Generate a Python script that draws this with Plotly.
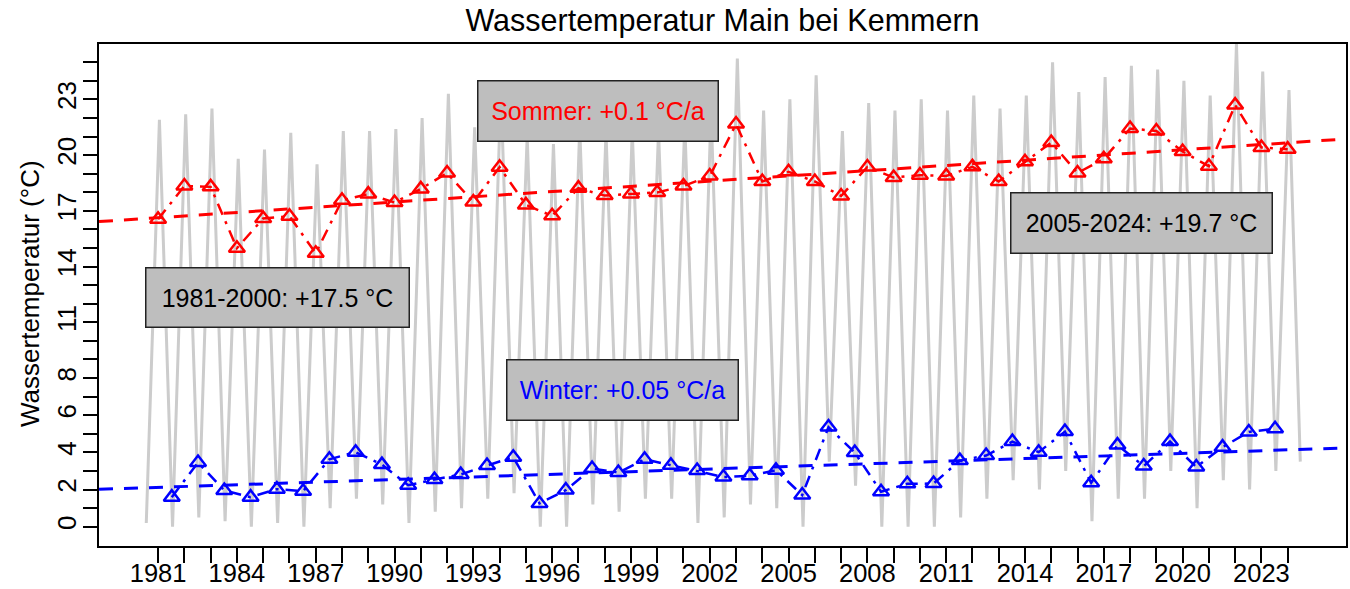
import plotly.graph_objects as go

# ---------------- data ----------------
years = list(range(1981, 2025))

summer_mean = [16.55, 18.34, 18.29, 14.99, 16.59, 16.71, 14.72, 17.57, 17.90, 17.45,
               18.18, 19.04, 17.47, 19.35, 17.32, 16.73, 18.22, 17.82, 17.91, 17.99,
               18.34, 18.87, 21.67, 18.58, 19.10, 18.58, 17.80, 19.36, 18.79, 18.92,
               18.88, 19.37, 18.58, 19.64, 20.68, 19.04, 19.80, 21.43, 21.30, 20.19,
               19.40, 22.69, 20.41, 20.32]

winter_years = [y + 0.52 for y in range(1981, 2024)]
winter_mean = [1.59, 3.45, 1.95, 1.59, 2.02, 1.91, 3.63, 4.01, 3.34, 2.23,
               2.54, 2.81, 3.29, 3.74, 1.25, 1.97, 3.13, 2.91, 3.63, 3.31,
               3.02, 2.67, 2.74, 3.04, 1.70, 5.36, 3.99, 1.88, 2.31, 2.32,
               3.56, 3.83, 4.58, 4.01, 5.12, 2.36, 4.39, 3.26, 4.58, 3.21,
               4.28, 5.10, 5.27]

# linear trends (end points at the plot edges)
trend_years = [1978.75, 2026.22]
summer_trend = [16.42, 20.87]
winter_trend = [2.01, 4.24]

# daily water temperature (grey): yearly summer peaks and winter troughs
gray_peak = [21.9, 22.2, 22.5, 19.8, 20.3, 21.2, 19.5, 21.3, 21.3, 21.4,
             22.0, 23.3, 21.5, 23.5, 21.0, 20.6, 21.5, 21.2, 21.3, 21.3,
             21.7, 22.4, 25.2, 22.4, 23.0, 24.3, 21.3, 22.8, 22.4, 23.0,
             22.4, 23.2, 22.5, 23.2, 25.0, 23.4, 24.2, 24.8, 24.6, 24.0,
             23.2, 26.0, 24.5, 23.5]
gray_trough = [0.2, 0.0, 0.5, 0.3, 0.0, 0.2, 0.0, 1.0, 1.5, 1.2,
               0.2, 0.8, 1.0, 1.5, 1.8, 0.0, 0.0, 1.2, 0.8, 1.5,
               1.5, 0.2, 0.5, 1.2, 1.0, 0.0, 3.5, 2.2, 0.0, 0.0,
               0.0, 0.5, 1.5, 2.5, 2.0, 3.0, 0.3, 1.5, 1.5, 3.0,
               1.0, 2.5, 2.0, 3.0, 3.5]

x_tick_years = years
x_tick_labels = [str(y) if (y - 1981) % 3 == 0 else "" for y in years]
y_tick_vals = list(range(0, 26))
y_label_set = [0, 2, 4, 6, 8, 11, 14, 17, 20, 23]
y_tick_labels = [str(v) if v in y_label_set else "" for v in y_tick_vals]

title_text = "Wassertemperatur Main bei Kemmern"
y_title = "Wassertemperatur (°C)"
box_texts = ["Sommer: +0.1 °C/a", "1981-2000: +17.5 °C", "2005-2024: +19.7 °C", "Winter: +0.05 °C/a"]

# ---------------- build grey series ----------------
gx, gy = [], []
for i, y in enumerate(years):
    gx.append(y - 0.45)
    gy.append(gray_trough[i])
    gx.append(y + 0.05)
    gy.append(gray_peak[i])
gx.append(years[-1] + 0.48)
gy.append(gray_trough[-1])

FONT = "Liberation Sans, Arial, sans-serif"

fig = go.Figure()
fig.add_trace(go.Scatter(x=gx, y=gy, mode="lines",
                         line=dict(color="#CCCCCC", width=3), hoverinfo="skip"))
fig.add_trace(go.Scatter(x=trend_years, y=summer_trend, mode="lines",
                         line=dict(color="#FF0000", width=3, dash="14px,11px")))
fig.add_trace(go.Scatter(x=trend_years, y=winter_trend, mode="lines",
                         line=dict(color="#0000FF", width=3, dash="14px,11px")))
fig.add_trace(go.Scatter(x=years, y=summer_mean, mode="lines+markers",
                         line=dict(color="#FF0000", width=2.5, dash="12px,7px,3px,7px"),
                         marker=dict(symbol="triangle-up-open", size=14, color="#FF0000",
                                     line=dict(width=2.5, color="#FF0000"))))
fig.add_trace(go.Scatter(x=winter_years, y=winter_mean, mode="lines+markers",
                         line=dict(color="#0000FF", width=2.5, dash="12px,7px,3px,7px"),
                         marker=dict(symbol="triangle-up-open", size=14, color="#0000FF",
                                     line=dict(width=2.5, color="#0000FF"))))

# plot area in pixels: x 99..1346, y 44..546
L, R, T, B = 99.0, 1346.0, 44.0, 546.0
def px(xp):
    return (xp - L) / (R - L)
def py(yp):
    return (B - yp) / (B - T)

boxes = [
    # text, color, x0, x1, y0, y1 (pixels)
    (box_texts[0], "#FF0000", 477, 719, 80, 142),
    (box_texts[1], "#000000", 145, 410, 267, 328),
    (box_texts[2], "#000000", 1010, 1273, 192, 254),
    (box_texts[3], "#0000FF", 506, 739, 359, 421),
]
annotations = []
for txt, col, x0, x1, y0, y1 in boxes:
    annotations.append(dict(
        text=txt, xref="paper", yref="paper",
        x=px((x0 + x1) / 2), y=py((y0 + y1) / 2),
        xanchor="center", yanchor="middle", showarrow=False,
        font=dict(family=FONT, size=25, color=col),
        bgcolor="#BEBEBE", bordercolor="#222222", borderwidth=1.5, borderpad=0,
        width=(x1 - x0) - 3, height=(y1 - y0) - 3, align="center"))

annotations.append(dict(
    text=y_title, xref="paper", yref="paper", x=px(30), y=py(294),
    xanchor="center", yanchor="middle", showarrow=False, textangle=-90,
    font=dict(family=FONT, size=26, color="#000000")))

fig.update_layout(
    width=1350, height=589,
    margin=dict(l=99, r=4, t=44, b=43, pad=0),
    paper_bgcolor="white", plot_bgcolor="white",
    showlegend=False,
    title=dict(text=title_text, x=0.5, xref="paper", xanchor="center",
               y=1 - 10 / 589, yref="container", yanchor="top",
               font=dict(family=FONT, size=30.5, color="#000000")),
    annotations=annotations,
    font=dict(family=FONT, color="#000000"),
)
fig.update_xaxes(range=[1978.75, 2026.22], tickmode="array", automargin=False,
                 tickvals=x_tick_years, ticktext=x_tick_labels,
                 ticks="outside", ticklen=15, tickwidth=1.5, tickcolor="#000000",
                 ticklabelstandoff=-11,
                 showline=True, mirror=True, linecolor="#000000", linewidth=1.5,
                 showgrid=False, zeroline=False,
                 tickfont=dict(family=FONT, size=25.5, color="#000000"))
fig.update_yaxes(range=[-1.04, 25.98], tickmode="array", automargin=False,
                 tickvals=y_tick_vals, ticktext=y_tick_labels, tickangle=-90,
                 ticks="outside", ticklen=14, tickwidth=1.5, tickcolor="#000000",
                 ticklabelstandoff=-3,
                 showline=True, mirror=True, linecolor="#000000", linewidth=1.5,
                 showgrid=False, zeroline=False,
                 tickfont=dict(family=FONT, size=26, color="#000000"))

fig.write_html("out.html", config={"displayModeBar": False},
               post_script="document.body.style.margin='0';document.body.style.padding='0';")
